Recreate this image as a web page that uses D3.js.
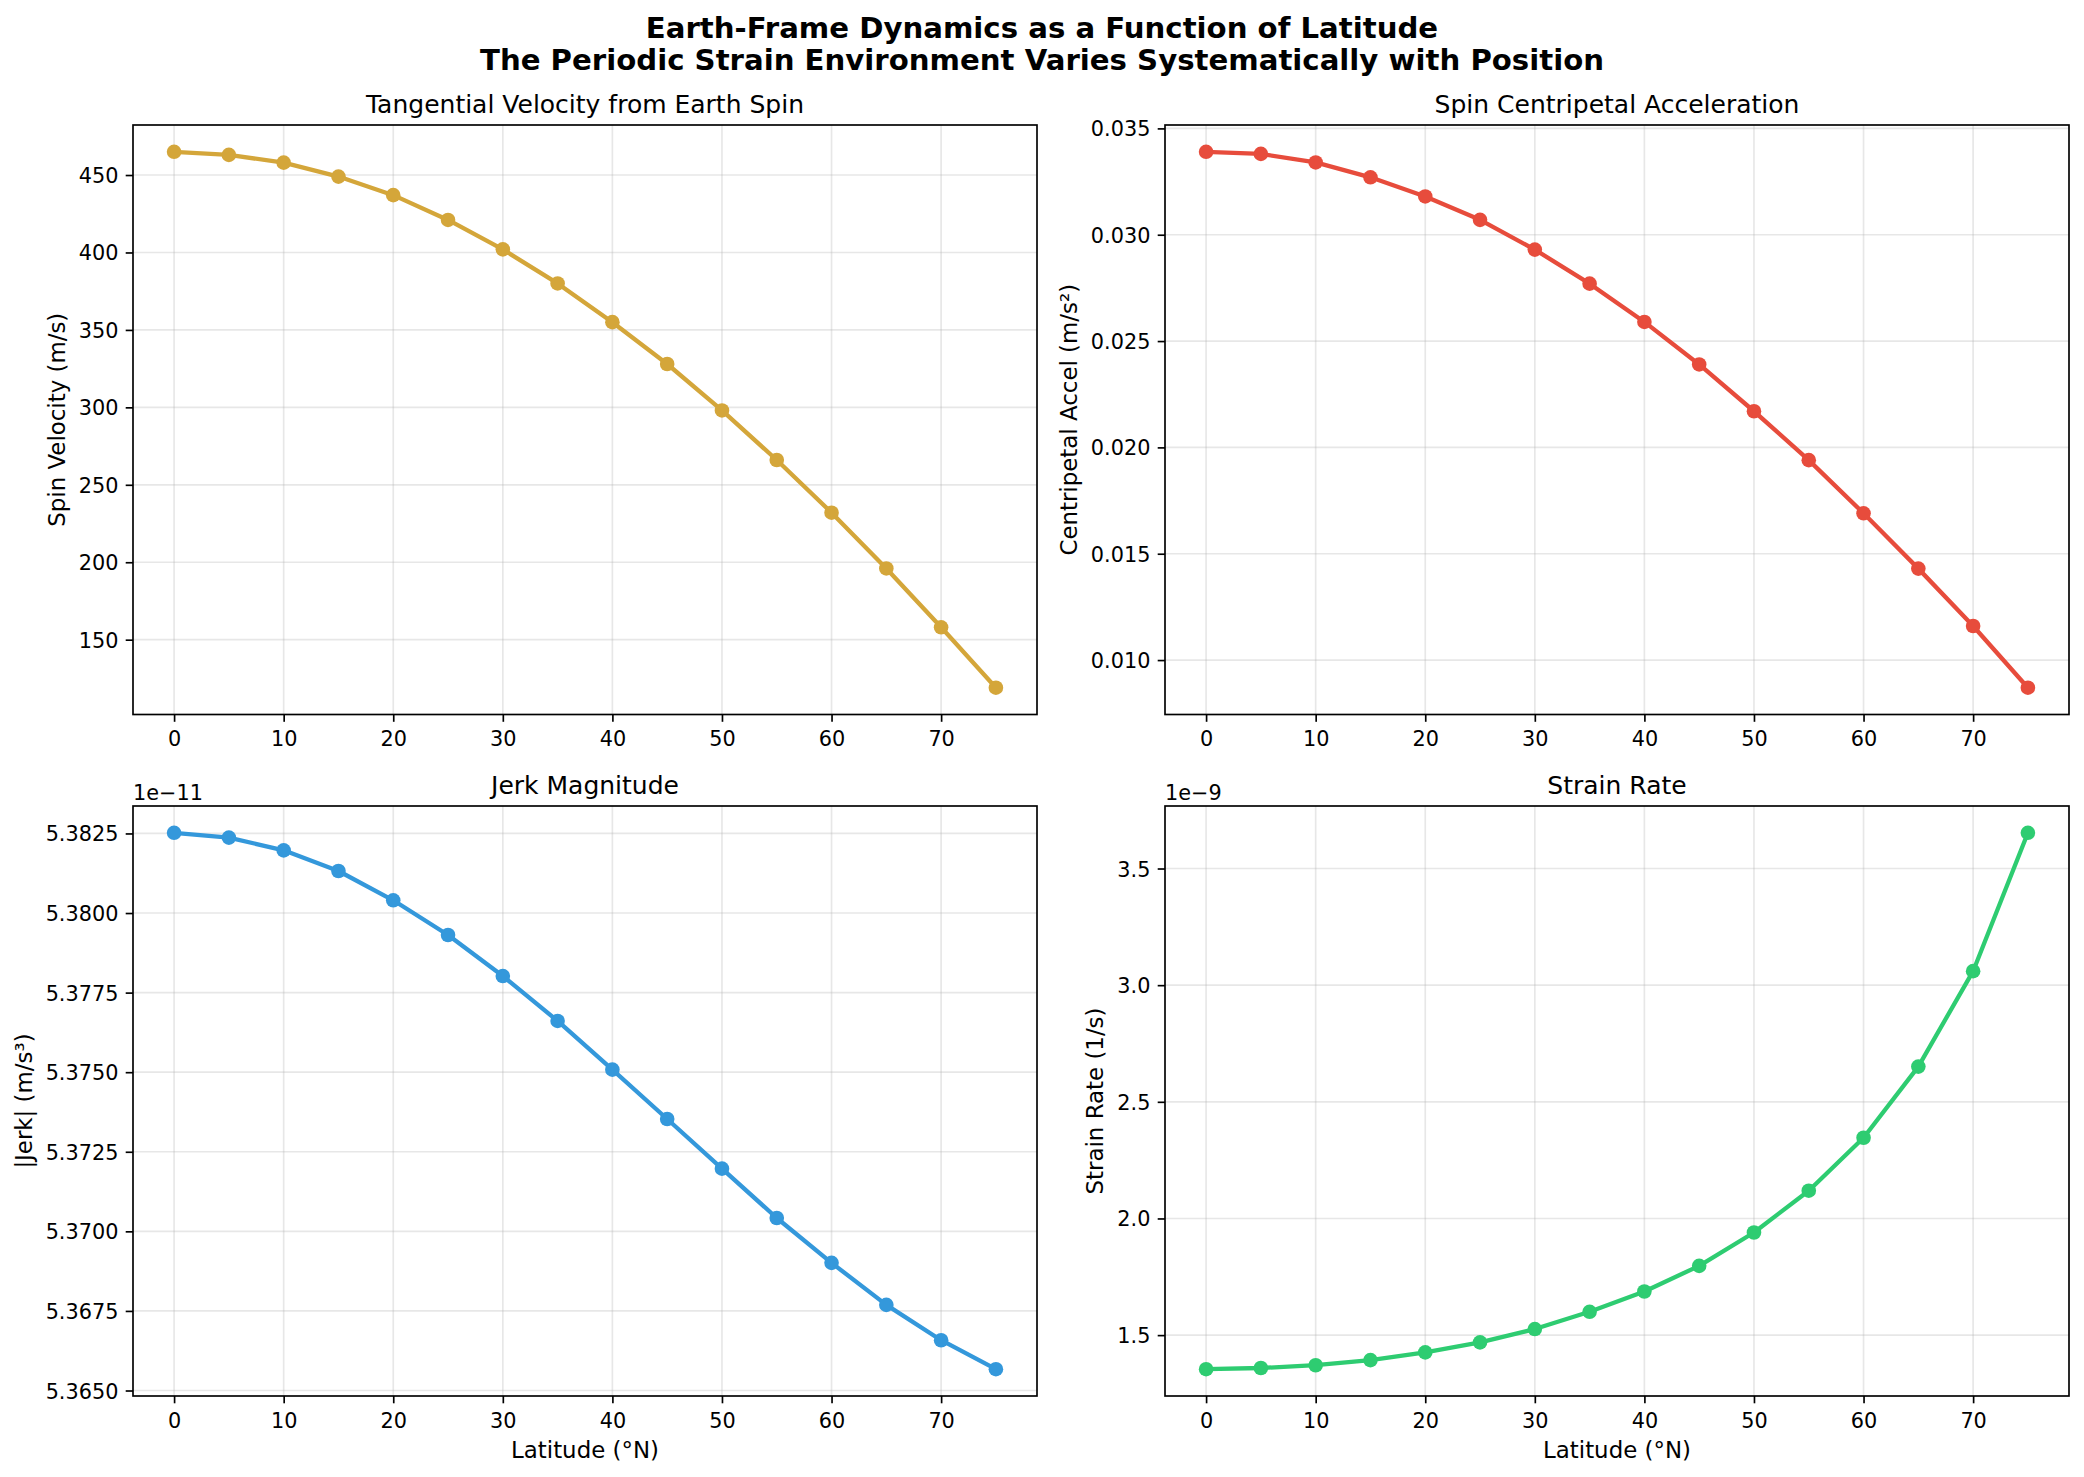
<!DOCTYPE html>
<html>
<head>
<meta charset="utf-8">
<script src="https://cdn.jsdelivr.net/npm/d3@7"></script>
<style>
  body { margin: 0; background: #fff; }
  svg { display: block; }
  text { font-family: "DejaVu Sans", sans-serif; fill: #000; }
</style>
</head>
<body>
<svg id="chart" width="2084" height="1477"></svg>
<script>
// values
const latitudes = [0, 5, 10, 15, 20, 25, 30, 35, 40, 45, 50, 55, 60, 65, 70, 75];
const spinVelocity = [465, 463, 458, 449, 437, 421, 402, 380, 355, 328, 298, 266, 232, 196, 158, 119];
const centripetalAccel = [0.0339, 0.0338, 0.0334, 0.0327, 0.0318, 0.0307, 0.0293, 0.0277,
                          0.0259, 0.0239, 0.0217, 0.0194, 0.0169, 0.0143, 0.0116, 0.0087];
// mantissas, shown with the "1e-11" offset
const jerkMagnitude = [5.38252, 5.38237, 5.38197, 5.38132, 5.38040, 5.37931, 5.37802, 5.37661,
                       5.37508, 5.37353, 5.37197, 5.37042, 5.36901, 5.36769, 5.36658, 5.36567];
// mantissas, shown with the "1e-9" offset
const strainRate = [1.354, 1.359, 1.371, 1.393, 1.426, 1.469, 1.526, 1.600,
                    1.687, 1.797, 1.940, 2.119, 2.346, 2.651, 3.060, 3.653];

const latitudeTicks = [0, 10, 20, 30, 40, 50, 60, 70];
const velocityTicks = [150, 200, 250, 300, 350, 400, 450];
const accelTicks = [0.010, 0.015, 0.020, 0.025, 0.030, 0.035];
const jerkTicks = [5.3650, 5.3675, 5.3700, 5.3725, 5.3750, 5.3775, 5.3800, 5.3825];
const strainTicks = [1.5, 2.0, 2.5, 3.0, 3.5];

const suptitleLines = ["Earth-Frame Dynamics as a Function of Latitude",
                       "The Periodic Strain Environment Varies Systematically with Position"];

const svg = d3.select("#chart");
const FS = 20.8;       // 10pt at 150 dpi
const LABEL_FS = 22.9; // 11pt
const TICK = 7.3;

const panels = [
    { values: spinVelocity, ticks: velocityTicks, fmt: d3.format("d"), color: "#d4a63a",
      title: "Tangential Velocity from Earth Spin", ylabel: "Spin Velocity (m/s)",
      left: 133, top: 125, right: 1037, bottom: 714.5 },
    { values: centripetalAccel, ticks: accelTicks, fmt: d3.format(".3f"), color: "#e74c3c",
      title: "Spin Centripetal Acceleration", ylabel: "Centripetal Accel (m/s\u00b2)",
      left: 1165, top: 125, right: 2069, bottom: 714.5 },
    { values: jerkMagnitude, ticks: jerkTicks, fmt: d3.format(".4f"), color: "#3498db",
      title: "Jerk Magnitude", ylabel: "|Jerk| (m/s\u00b3)", offset: "1e\u221211",
      xlabel: "Latitude (\u00b0N)", left: 133, top: 806, right: 1037, bottom: 1396 },
    { values: strainRate, ticks: strainTicks, fmt: d3.format(".1f"), color: "#2ecc71",
      title: "Strain Rate", ylabel: "Strain Rate (1/s)", offset: "1e\u22129",
      xlabel: "Latitude (\u00b0N)", left: 1165, top: 806, right: 2069, bottom: 1396 }
];

function padded(arr) {
    const [lo, hi] = d3.extent(arr);
    const m = (hi - lo) * 0.05;
    return [lo - m, hi + m];
}

function drawPanel(p) {
    const g = svg.append("g");
    const x = d3.scaleLinear().domain(padded(latitudes)).range([p.left, p.right]);
    const y = d3.scaleLinear().domain(padded(p.values)).range([p.bottom, p.top]);

    // grid
    const grid = g.append("g").attr("stroke", "#b0b0b0").attr("stroke-opacity", 0.3).attr("stroke-width", 1.67);
    grid.selectAll(".gx").data(latitudeTicks).join("line")
        .attr("x1", d => x(d)).attr("x2", d => x(d)).attr("y1", p.top).attr("y2", p.bottom);
    grid.selectAll(".gy").data(p.ticks).join("line")
        .attr("y1", d => y(d)).attr("y2", d => y(d)).attr("x1", p.left).attr("x2", p.right);

    // series
    const line = d3.line().x((d, i) => x(latitudes[i])).y(d => y(d));
    g.append("path").datum(p.values)
        .attr("d", line).attr("fill", "none").attr("stroke", p.color)
        .attr("stroke-width", 4.3).attr("stroke-linejoin", "round");
    g.append("g").selectAll("circle").data(p.values).join("circle")
        .attr("cx", (d, i) => x(latitudes[i])).attr("cy", d => y(d))
        .attr("r", 7.3).attr("fill", p.color);

    // spines
    g.append("rect").attr("x", p.left).attr("y", p.top)
        .attr("width", p.right - p.left).attr("height", p.bottom - p.top)
        .attr("fill", "none").attr("stroke", "#000").attr("stroke-width", 1.67);

    // x axis
    const xa = g.append("g").attr("transform", `translate(0,${p.bottom})`)
        .call(d3.axisBottom(x).tickValues(latitudeTicks).tickSize(TICK).tickPadding(TICK));
    xa.select(".domain").remove();
    xa.selectAll("line").attr("stroke", "#000").attr("stroke-width", 1.67);
    xa.selectAll("text").attr("y", 31.5).attr("dy", null)
        .attr("font-size", FS).attr("font-family", "DejaVu Sans").attr("fill", "#000");

    // y axis
    const ya = g.append("g").attr("transform", `translate(${p.left},0)`)
        .call(d3.axisLeft(y).tickValues(p.ticks).tickFormat(p.fmt).tickSize(TICK).tickPadding(TICK));
    ya.select(".domain").remove();
    ya.selectAll("line").attr("stroke", "#000").attr("stroke-width", 1.67);
    const yt = ya.selectAll("text").attr("dy", "0.36em")
        .attr("font-size", FS).attr("font-family", "DejaVu Sans").attr("fill", "#000");

    const maxW = d3.max(yt.nodes(), n => n.getBBox().width);
    const xb = p.left - 2 * TICK - maxW - 14;
    g.append("text")
        .attr("transform", `translate(${xb},${(p.top + p.bottom) / 2}) rotate(-90)`)
        .attr("text-anchor", "middle").attr("font-size", LABEL_FS).text(p.ylabel);

    g.append("text").attr("x", (p.left + p.right) / 2).attr("y", p.top - 12.5)
        .attr("text-anchor", "middle").attr("font-size", 25).text(p.title);

    if (p.offset) {
        g.append("text").attr("x", p.left).attr("y", p.top - 6)
            .attr("font-size", FS).text(p.offset);
    }
    if (p.xlabel) {
        g.append("text").attr("x", (p.left + p.right) / 2).attr("y", p.bottom + 61.5)
            .attr("text-anchor", "middle").attr("font-size", LABEL_FS).text(p.xlabel);
    }
}

panels.forEach(drawPanel);

svg.append("g").selectAll("text").data(suptitleLines).join("text")
    .attr("x", 1042).attr("y", (d, i) => 38 + i * 31.5)
    .attr("text-anchor", "middle").attr("font-size", 29.2).attr("font-weight", "bold")
    .text(d => d);
</script>
</body>
</html>
